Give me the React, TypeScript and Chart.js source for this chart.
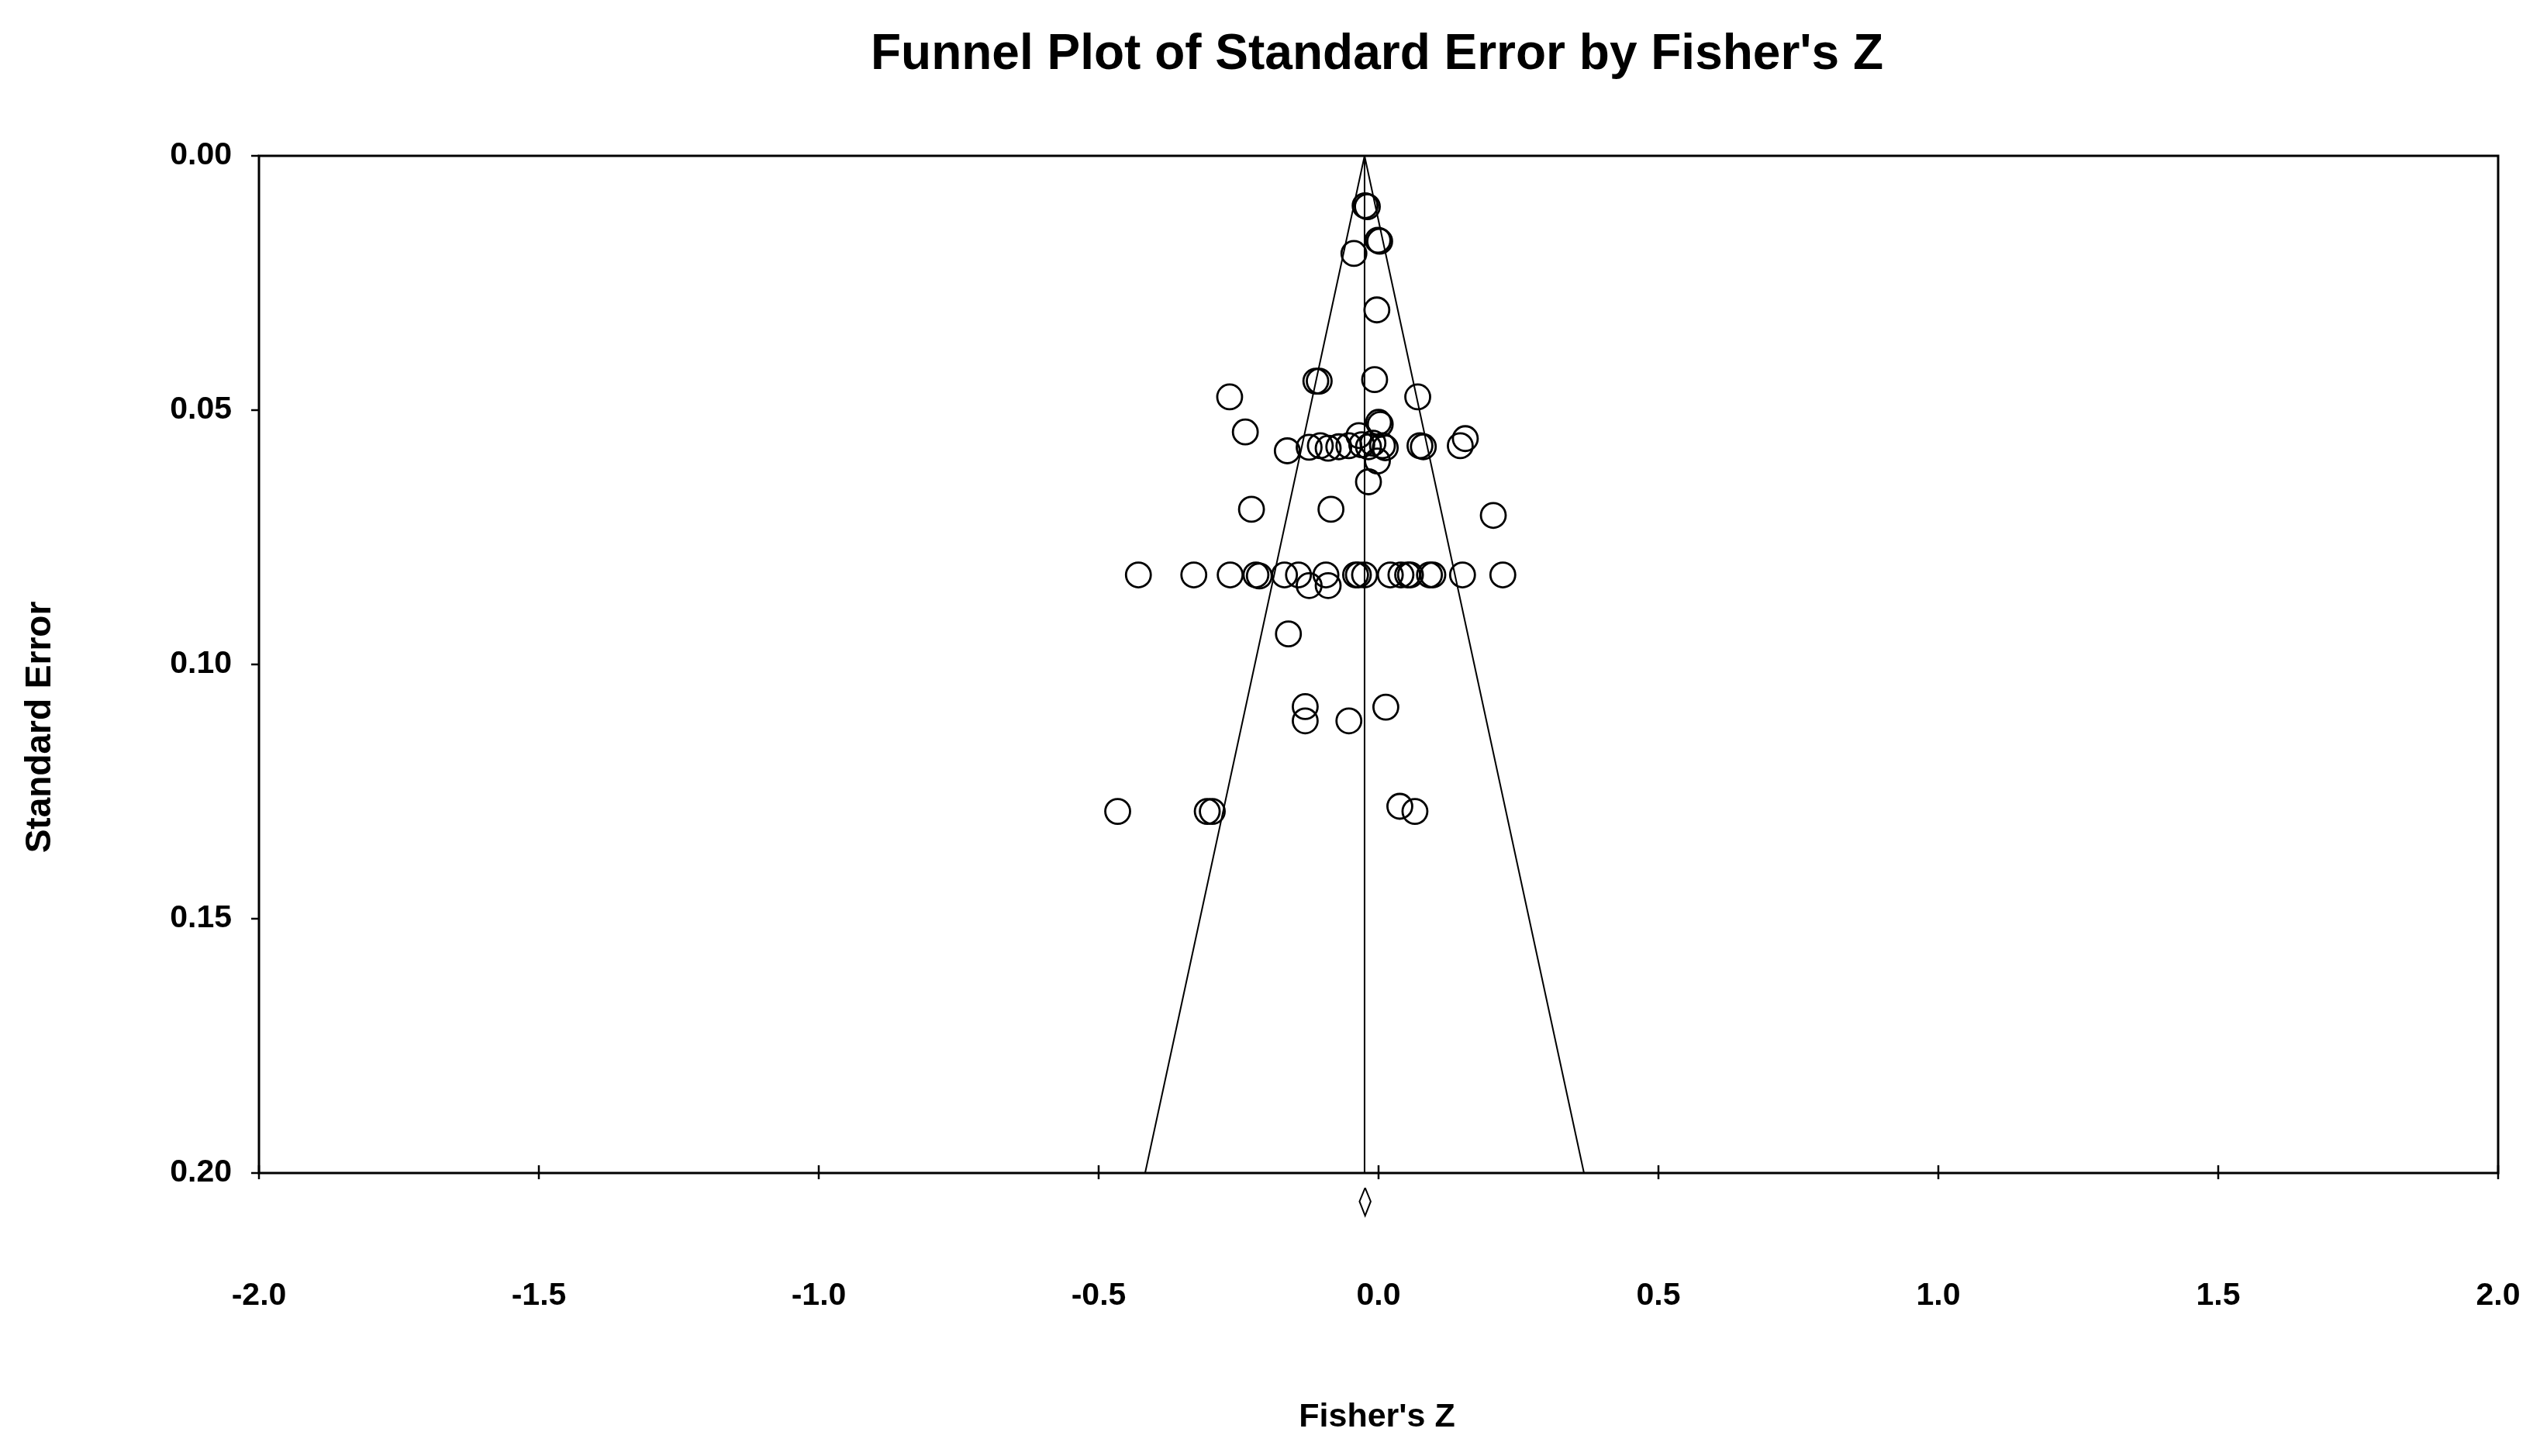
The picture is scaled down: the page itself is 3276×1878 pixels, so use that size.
import React, { useEffect, useRef } from 'react';
import { Chart, registerables } from 'chart.js';

Chart.register(...registerables);

// ---- Data ----
const studyZ = [
  -0.024, -0.020, -0.001, 0.002, -0.044, -0.003,
  -0.007, -0.112, -0.106, -0.266, 0.070, -0.238, 0.000, 0.003,
  0.155, 0.146, 0.074, 0.080, -0.163,
  -0.124, -0.104, -0.090, -0.071, -0.053, -0.035, -0.030, -0.018, -0.010, 0.007, 0.012,
  -0.002, -0.018,
  -0.227, -0.085, 0.205,
  -0.429, -0.330, -0.265, -0.219, -0.213, -0.168, -0.143, -0.124, -0.094, -0.090,
  -0.041, -0.036, -0.025, 0.021, 0.040, 0.052, 0.057, 0.091, 0.097, 0.150, 0.222,
  -0.161,
  -0.131, -0.131, -0.053, 0.013,
  -0.466, -0.306, -0.297, 0.038, 0.065,
];
const studySE = [
  0.0098, 0.0100, 0.0166, 0.0168, 0.0192, 0.0303,
  0.0440, 0.0443, 0.0443, 0.0474, 0.0474, 0.0543, 0.0524, 0.0528,
  0.0556, 0.0570, 0.0570, 0.0572, 0.0580,
  0.0573, 0.0570, 0.0575, 0.0572, 0.0570, 0.0550, 0.0568, 0.0572, 0.0565, 0.0570, 0.0574,
  0.0600, 0.0641,
  0.0695, 0.0695, 0.0707,
  0.0824, 0.0824, 0.0824, 0.0824, 0.0826, 0.0824, 0.0824, 0.0845, 0.0824, 0.0845,
  0.0824, 0.0824, 0.0824, 0.0824, 0.0824, 0.0824, 0.0824, 0.0824, 0.0824, 0.0824, 0.0824,
  0.0940,
  0.1083, 0.1111, 0.1111, 0.1084,
  0.1289, 0.1289, 0.1289, 0.1279, 0.1289,
];

const pooledZ = -0.025;
const funnelMaxSE = 0.2;
const funnelZ = [pooledZ - 1.96 * funnelMaxSE, pooledZ, pooledZ + 1.96 * funnelMaxSE];
const funnelSE = [funnelMaxSE, 0, funnelMaxSE];
const meanLineZ = [pooledZ, pooledZ];
const meanLineSE = [0, funnelMaxSE];
const diamondZ = [-0.024, -0.014, -0.024, -0.034, -0.024];
const diamondSE = [0.2029, 0.2056, 0.2084, 0.2056, 0.2029];

const xTickValues = [-2, -1.5, -1, -0.5, 0, 0.5, 1, 1.5, 2];
const yTickValues = [0, 0.05, 0.1, 0.15, 0.2];

const titleText = "Funnel Plot of Standard Error by Fisher's Z";
const xTitleText = "Fisher's Z";
const yTitleText = 'Standard Error';

const FONT = '"Liberation Sans", Arial, sans-serif';

const zip = (xs: number[], ys: number[]) => xs.map((x, i) => ({ x, y: ys[i] }));

const decorPlugin = {
  id: 'decor',
  afterDraw(chart: any) {
    const { ctx, chartArea } = chart;
    const { left, right, top, bottom } = chartArea;
    const xs = chart.scales.x;
    const ys = chart.scales.y;
    ctx.save();
    ctx.strokeStyle = '#000';
    ctx.lineWidth = 3;
    ctx.strokeRect(left, top, right - left, bottom - top);
    // x ticks (crossing)
    ctx.lineWidth = 2.5;
    xTickValues.forEach((v) => {
      const px = Math.round(xs.getPixelForValue(v));
      ctx.beginPath();
      ctx.moveTo(px, bottom - 10);
      ctx.lineTo(px, bottom + 8);
      ctx.stroke();
    });
    // y ticks (outside)
    yTickValues.forEach((v) => {
      const py = Math.round(ys.getPixelForValue(v));
      ctx.beginPath();
      ctx.moveTo(left - 10, py);
      ctx.lineTo(left, py);
      ctx.stroke();
    });
    ctx.fillStyle = '#000';
    ctx.textAlign = 'center';
    ctx.textBaseline = 'middle';
    ctx.font = `bold 64px ${FONT}`;
    ctx.fillText(titleText, 1776, 71);
    ctx.font = `bold 43px ${FONT}`;
    ctx.fillText(xTitleText, 1776, 1828);
    ctx.translate(52, 938);
    ctx.rotate(-Math.PI / 2);
    ctx.font = `bold 46px ${FONT}`;
    ctx.fillText(yTitleText, 0, 0);
    ctx.restore();
  },
};

export default function App() {
  const ref = useRef<HTMLCanvasElement | null>(null);
  useEffect(() => {
    if (!ref.current) return;
    const lineStyle = {
      showLine: true,
      borderColor: '#000',
      borderWidth: 2,
      pointRadius: 0,
      fill: false,
      tension: 0,
    };
    const chart = new Chart(ref.current, {
      type: 'scatter',
      data: {
        datasets: [
          { ...lineStyle, label: 'funnel', data: zip(funnelZ, funnelSE) },
          { ...lineStyle, label: 'mean', data: zip(meanLineZ, meanLineSE) },
          { ...lineStyle, label: 'diamond', data: zip(diamondZ, diamondSE), clip: false as any },
          {
            label: 'studies',
            data: zip(studyZ, studySE),
            pointRadius: 16,
            pointBorderWidth: 2.8,
            pointBorderColor: '#000',
            pointBackgroundColor: 'rgba(0,0,0,0)',
            showLine: false,
          },
        ],
      },
      options: {
        animation: false,
        responsive: false,
        devicePixelRatio: 1,
        layout: { padding: { left: 0, right: 54, top: 201, bottom: 0 } },
        plugins: {
          legend: { display: false },
          tooltip: { enabled: false },
          title: { display: false },
        },
        scales: {
          x: {
            type: 'linear',
            min: -2,
            max: 2,
            afterFit: (s: any) => {
              s.height = 365;
              s.paddingLeft = 0;
              s.paddingRight = 0;
            },
            afterBuildTicks: (s: any) => { s.ticks = xTickValues.map((v) => ({ value: v })); },
            grid: { display: false, drawTicks: false },
            border: { display: false },
            ticks: {
              autoSkip: false,
              maxRotation: 0,
              padding: 134,
              color: '#000',
              font: { family: FONT, size: 41, weight: 'bold' },
              callback: (v: any) => Number(v).toFixed(1),
            },
          },
          y: {
            type: 'linear',
            reverse: true,
            min: 0,
            max: 0.2,
            afterFit: (s: any) => {
              s.width = 334;
              s.paddingTop = 0;
              s.paddingBottom = 0;
            },
            afterBuildTicks: (s: any) => { s.ticks = yTickValues.map((v) => ({ value: v })); },
            grid: { display: false, drawTicks: false },
            border: { display: false },
            ticks: {
              autoSkip: false,
              padding: 35,
              color: '#000',
              font: { family: FONT, size: 41, weight: 'bold' },
              callback: (v: any) => Number(v).toFixed(2),
            },
          },
        },
      },
      plugins: [decorPlugin],
    });
    return () => chart.destroy();
  }, []);
  return (
    <div style={{ position: 'fixed', left: 0, top: 0, width: 3276, height: 1878, background: '#fff' }}>
      <canvas ref={ref} width={3276} height={1878} style={{ width: 3276, height: 1878, display: 'block' }} />
    </div>
  );
}
